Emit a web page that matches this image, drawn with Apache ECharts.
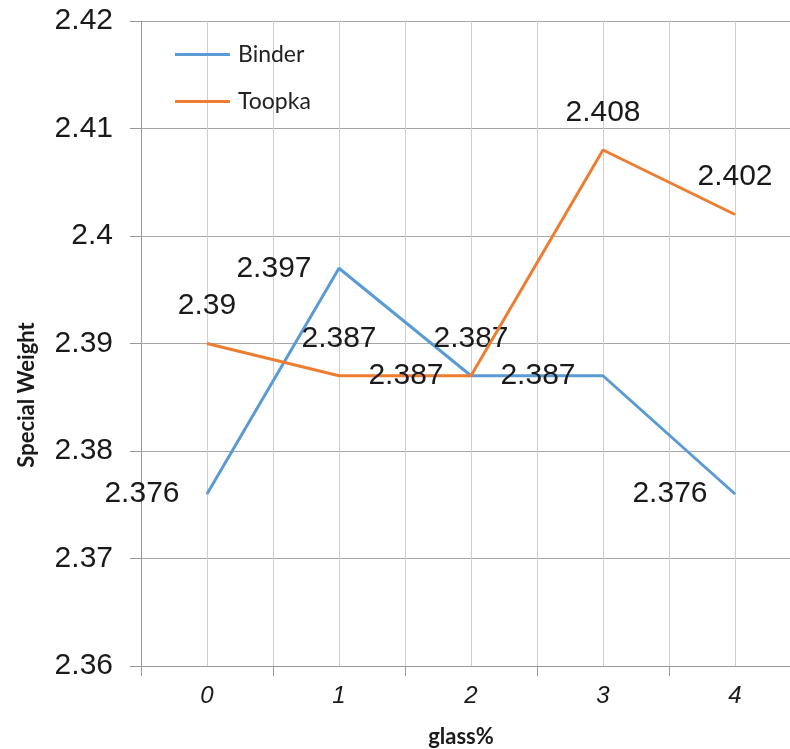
<!DOCTYPE html>
<html>
<head>
<meta charset="utf-8">
<script src="https://cdn.jsdelivr.net/npm/echarts@6/dist/echarts.min.js"></script>
<style>
  html, body { margin: 0; padding: 0; background: #ffffff; overflow: hidden; }
  /* the plot runs slightly past the right edge of the window */
  #chart { width: 812px; height: 749px; }
</style>
</head>
<body>
<div id="chart"></div>
<script>
// Glass content categories and measured specific weights
const categories = ['0', '1', '2', '3', '4'];
const binder = [2.376, 2.397, 2.387, 2.387, 2.376];
const toopka = [2.39, 2.387, 2.387, 2.408, 2.402];
const yTicks = { min: 2.36, max: 2.42, step: 0.01 };

// Where each value label sits relative to its point
const binderLabelPos = ['left', 'left', 'top', 'left', 'left'];
const toopkaLabelPos = ['top', 'top', 'left', 'top', 'top'];

const BLUE = '#5B9BD5';
const ORANGE = '#ED7D31';
const NUM_FONT = 'Liberation Sans, Arial, sans-serif';
const TXT_FONT = 'Lato, "Open Sans", sans-serif';

function labelled(values, positions) {
  return values.map((v, i) => ({
    value: v,
    label: {
      position: positions[i],
      distance: positions[i] === 'left' ? 27 : 22
    }
  }));
}

// Half-step bands so the grid has a vertical line at every category and boundary
const halfBands = categories.flatMap(c => [c + 'a', c + 'b']);

const chart = echarts.init(document.getElementById('chart'), null, { renderer: 'canvas' });

const valueLabel = {
  show: true,
  color: '#1a1a1a',
  fontSize: 30,
  fontFamily: NUM_FONT,
  formatter: p => String(p.value)
};

chart.setOption({
  backgroundColor: '#ffffff',
  animation: false,
  grid: { left: 141, top: 21, width: 660, height: 645 },
  legend: {
    orient: 'vertical',
    left: 170,
    top: 38,
    icon: 'rect',
    itemWidth: 55,
    itemHeight: 3,
    itemGap: 24,
    textStyle: { fontFamily: TXT_FONT, fontSize: 23, color: '#222', padding: [0, 0, 0, 3] },
    data: ['Binder', 'Toopka']
  },
  xAxis: [
    {
      type: 'category',
      data: categories,
      boundaryGap: true,
      axisLine: { show: true, lineStyle: { color: '#999999', width: 1 } },
      axisTick: { show: true, length: 10, lineStyle: { color: '#999999' } },
      axisLabel: {
        margin: 18,
        fontSize: 24,
        fontStyle: 'italic',
        fontFamily: NUM_FONT,
        color: '#1a1a1a'
      },
      splitLine: { show: false }
    },
    {
      type: 'category',
      data: halfBands,
      position: 'top',
      boundaryGap: true,
      axisLine: { show: false },
      axisTick: { show: false },
      axisLabel: { show: false },
      splitLine: { show: true, interval: 0, lineStyle: { color: '#cfcfcf', width: 1 } }
    }
  ],
  yAxis: {
    type: 'value',
    min: yTicks.min,
    max: yTicks.max,
    interval: yTicks.step,
    axisLine: { show: true, lineStyle: { color: '#999999', width: 1 } },
    axisTick: { show: true, length: 11, lineStyle: { color: '#999999' } },
    axisLabel: {
      margin: 28,
      fontSize: 30,
      fontFamily: NUM_FONT,
      color: '#1a1a1a',
      formatter: v => String(Number(v.toFixed(2)))
    },
    splitLine: { show: true, lineStyle: { color: '#a6a6a6', width: 1 } }
  },
  graphic: [
    {
      type: 'text',
      x: 27,
      y: 395,
      rotation: Math.PI / 2,
      style: {
        text: 'Special Weight',
        font: 'bold 22px ' + TXT_FONT,
        fill: '#1a1a1a',
        align: 'center',
        verticalAlign: 'middle'
      }
    },
    {
      type: 'text',
      x: 461,
      y: 737,
      style: {
        text: 'glass%',
        font: 'bold 22px ' + TXT_FONT,
        fill: '#1a1a1a',
        align: 'center',
        verticalAlign: 'middle'
      }
    }
  ],
  series: [
    {
      name: 'Binder',
      type: 'line',
      xAxisIndex: 0,
      data: labelled(binder, binderLabelPos),
      symbol: 'circle',
      symbolSize: 1,
      showSymbol: true,
      lineStyle: { color: BLUE, width: 3 },
      itemStyle: { color: BLUE },
      label: valueLabel,
      labelLayout: { hideOverlap: false },
      z: 3
    },
    {
      name: 'Toopka',
      type: 'line',
      xAxisIndex: 0,
      data: labelled(toopka, toopkaLabelPos),
      symbol: 'circle',
      symbolSize: 1,
      showSymbol: true,
      lineStyle: { color: ORANGE, width: 3 },
      itemStyle: { color: ORANGE },
      label: valueLabel,
      labelLayout: { hideOverlap: false },
      z: 4
    }
  ]
});
</script>
</body>
</html>
